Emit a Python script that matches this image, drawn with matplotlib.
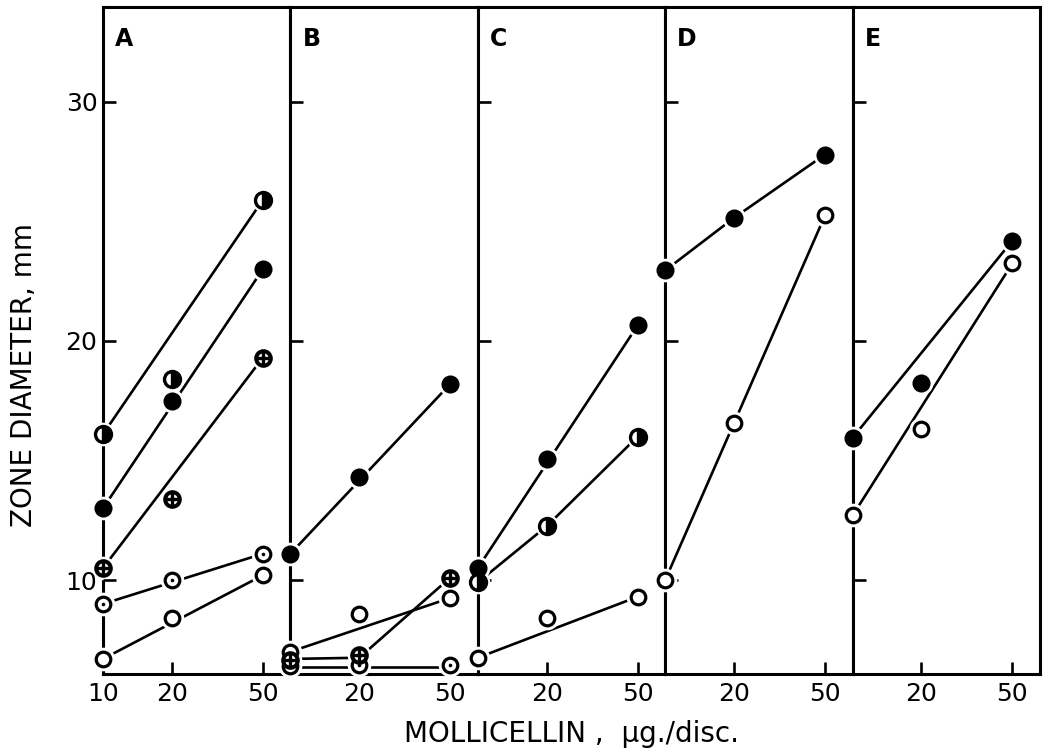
import matplotlib
matplotlib.use('Agg')
import matplotlib.pyplot as plt
from matplotlib.ticker import FixedLocator, NullLocator, FixedFormatter

plt.rcParams['font.family'] = ['DejaVu Sans']

# ---------------- data ----------------
doses = [10, 20, 50]
panel_names = ['A', 'B', 'C', 'D', 'E']
y_ticks = [10, 20, 30]

# zone diameters (mm) at 10, 20, 50 ug/disc
A_half   = [16.1, 18.4, 25.9]
A_filled = [13.0, 17.5, 23.0]
A_cross  = [10.5, 13.4, 19.3]
A_dot    = [9.0, 10.0, 11.1]
A_open   = [6.7, 8.4, 10.2]

B_filled = [11.1, 14.3, 18.2]
B_open   = [7.0, 8.6, 9.25]
B_cross  = [6.65, 6.85, 10.1]
B_dot    = [6.4, 6.45, 6.45]

C_filled = [10.5, 15.05, 20.65]
C_half   = [9.9, 12.25, 16.0]
C_open   = [6.75, 8.4, 9.3]

D_filled = [22.95, 25.15, 27.8]
D_open   = [10.0, 16.55, 25.25]

E_filled = [15.95, 18.25, 24.2]
E_open   = [12.7, 16.3, 23.25]

# drawn lines: (doses, values)
A_lines = [([10, 50], [16.1, 25.9]), ([10, 50], [13.0, 23.0]),
           ([10, 50], [10.5, 19.3]), ([10, 50], [9.0, 11.1]),
           ([10, 50], [6.7, 10.2])]
B_lines = [([10, 50], [11.1, 18.2]), ([10, 50], [7.0, 9.25]),
           ([10, 20, 50], [6.7, 6.75, 10.1]), ([10, 50], [6.38, 6.38])]
C_lines = [([10, 50], [10.5, 20.65]), ([10, 20, 50], [9.9, 12.25, 16.0]),
           ([10, 50], [6.75, 9.3])]
D_lines = [([10, 20, 50], [22.95, 25.15, 27.8]), ([10, 50], [10.0, 25.25])]
E_lines = [([10, 50], [15.95, 24.2]), ([10, 50], [12.7, 23.25])]

panels = [
    ([('half', A_half), ('filled', A_filled), ('cross', A_cross),
      ('dot', A_dot), ('open', A_open)], A_lines),
    ([('open', B_open), ('dot', B_dot), ('cross', B_cross),
      ('filled', B_filled)], B_lines),
    ([('filled', C_filled), ('half', C_half), ('open', C_open)], C_lines),
    ([('filled', D_filled), ('open', D_open)], D_lines),
    ([('filled', E_filled), ('open', E_open)], E_lines),
]

# ---------------- figure ----------------
W, H = 1045, 751
fig = plt.figure(figsize=(W / 100, H / 100), dpi=100)
left, right, top, bottom = 103 / W, 1040 / W, 1 - 7 / H, 1 - 674 / H
pw = (right - left) / 5

MS = 11.5
LW = 1.9


def draw_marker(ax, x, y, kind):
    kw = dict(clip_on=False, linestyle='none')
    ax.plot([x], [y], marker='o', ms=MS + 5.5, mfc='white', mec='white',
            mew=0, zorder=5, **kw)
    if kind == 'filled':
        ax.plot([x], [y], marker='o', ms=MS, mfc='black', mec='black',
                mew=1.5, zorder=6, **kw)
    elif kind == 'half':
        ax.plot([x], [y], marker='o', ms=MS, mfc='black', mfcalt='white',
                fillstyle='right', mec='black', mew=2.4, zorder=6, **kw)
    elif kind == 'open':
        ax.plot([x], [y], marker='o', ms=MS - 1, mfc='white', mec='black',
                mew=2.3, zorder=6, **kw)
    elif kind == 'dot':
        ax.plot([x], [y], marker='o', ms=MS - 1, mfc='white', mec='black',
                mew=2.3, zorder=6, **kw)
        ax.plot([x], [y], marker='o', ms=2.6, mfc='black', mec='black',
                mew=0, zorder=7, **kw)
    elif kind == 'cross':
        ax.plot([x], [y], marker='o', ms=MS - 1, mfc='white', mec='black',
                mew=2.9, zorder=6, **kw)
        ax.plot([x], [y], marker='+', ms=MS - 2, mec='black',
                mew=2.4, zorder=7, **kw)


for i, (name, (series, lines)) in enumerate(zip(panel_names, panels)):
    ax = fig.add_axes([left + i * pw, bottom, pw, top - bottom])
    ax.set_xscale('log')
    ax.set_xlim(10, 66)
    ax.set_ylim(6.07, 33.97)
    for s in ax.spines.values():
        s.set_linewidth(2.2)
    ax.xaxis.set_major_locator(FixedLocator(doses if i == 0 else doses[1:]))
    ax.xaxis.set_major_formatter(FixedFormatter(
        [str(d) for d in (doses if i == 0 else doses[1:])]))
    ax.xaxis.set_minor_locator(NullLocator())
    ax.yaxis.set_major_locator(FixedLocator(y_ticks))
    ax.yaxis.set_minor_locator(NullLocator())
    ax.tick_params(axis='both', direction='in', length=9, width=1.9,
                   labelsize=18, pad=6)
    ax.tick_params(axis='y', pad=4)
    if i > 0:
        ax.tick_params(axis='y', labelleft=False)
    else:
        ax.yaxis.set_zorder(8)
    for lx, ly in lines:
        ax.plot(lx, ly, color='black', lw=LW, zorder=2,
                solid_capstyle='butt')
    for kind, vals in series:
        for x, y in zip(doses, vals):
            draw_marker(ax, x, y, kind)
    ax.text(12 / 187.4, 1 - 20 / 667, name, transform=ax.transAxes,
            ha='left', va='top', fontsize=17, fontweight='bold')

fig.text(24 / W, 1 - 375 / H, 'ZONE DIAMETER, mm', rotation=90,
         ha='center', va='center', fontsize=20)
fig.text(572 / W, 1 - 742 / H, 'MOLLICELLIN ,  μg./disc.',
         ha='center', va='baseline', fontsize=20)

fig.savefig('out.png', dpi=100)
